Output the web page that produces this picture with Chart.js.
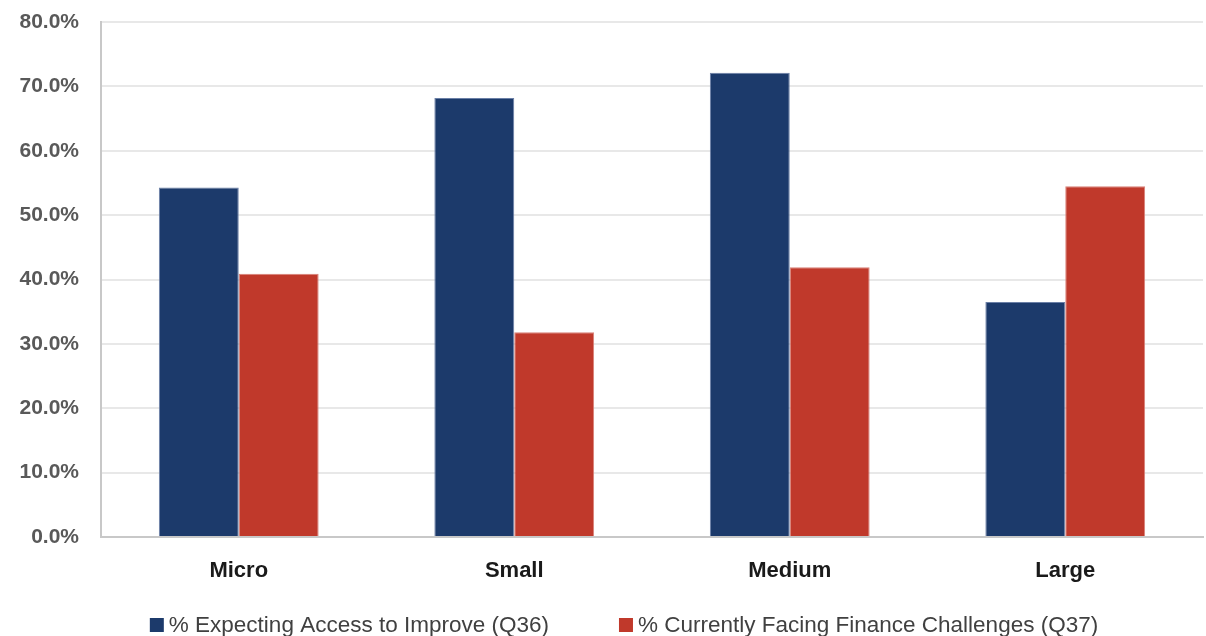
<!DOCTYPE html>
<html>
<head>
<meta charset="utf-8">
<script src="https://cdn.jsdelivr.net/npm/chart.js@4"></script>
<style>
  html, body { margin: 0; padding: 0; background: #ffffff; }
  #wrap { width: 1206px; height: 636px; }
</style>
</head>
<body>
<div id="wrap"><canvas id="c" width="1206" height="636"></canvas></div>
<script>
// Business size groups
const categories = ['Micro', 'Small', 'Medium', 'Large'];
// Share expecting access to finance to improve (Q36), percent
const expectingImprove = [54.3, 68.2, 72.1, 36.5];
// Share currently facing finance challenges (Q37), percent
const facingChallenges = [40.9, 31.8, 41.9, 54.5];
const seriesNames = ['% Expecting Access to Improve (Q36)', '% Currently Facing Finance Challenges (Q37)'];
const seriesColors = ['#1c3a6b', '#c0392b'];
const yTicks = [0, 10, 20, 30, 40, 50, 60, 70, 80];

const FONT = "'Liberation Sans', Arial, sans-serif";

// Legend row drawn under the axis: square swatch, small gap, label, wide gap to next item
const bottomLegend = {
  id: 'bottomLegend',
  afterDraw(chart) {
    const ctx = chart.ctx;
    const box = 14, textGap = 5, itemGap = 70;
    const baseline = 632;
    ctx.save();
    ctx.font = '22.5px ' + FONT;
    const items = chart.data.datasets.map(ds => ({
      text: ds.label,
      color: ds.backgroundColor,
      w: ctx.measureText(ds.label).width
    }));
    const total = items.reduce((s, it) => s + box + textGap + it.w, 0) + itemGap * (items.length - 1);
    let x = chart.width / 2 + 21 - total / 2;
    items.forEach(it => {
      ctx.fillStyle = it.color;
      ctx.fillRect(x, baseline - box, box, box);
      x += box + textGap;
      ctx.fillStyle = '#404040';
      ctx.textAlign = 'left';
      ctx.textBaseline = 'alphabetic';
      ctx.fillText(it.text, x, baseline);
      x += it.w + itemGap;
    });
    ctx.restore();
  }
};

new Chart(document.getElementById('c'), {
  type: 'bar',
  data: {
    labels: categories,
    datasets: [
      {
        label: seriesNames[0],
        data: expectingImprove,
        backgroundColor: seriesColors[0],
        borderColor: '#6a7fa6',
        borderWidth: 1,
        categoryPercentage: 0.58,
        barPercentage: 1.0
      },
      {
        label: seriesNames[1],
        data: facingChallenges,
        backgroundColor: seriesColors[1],
        borderColor: '#d98078',
        borderWidth: 1,
        categoryPercentage: 0.58,
        barPercentage: 1.0
      }
    ]
  },
  plugins: [bottomLegend],
  options: {
    responsive: false,
    animation: false,
    layout: { autoPadding: false, padding: { top: 22, right: 3, left: 0, bottom: 36 } },
    plugins: {
      tooltip: { enabled: false },
      legend: { display: false }
    },
    scales: {
      x: {
        grid: { display: false, drawTicks: false },
        border: { display: true, color: '#c8c8c8', width: 2 },
        ticks: {
          color: '#1a1a1a',
          padding: 21,
          font: { family: FONT, size: 22, weight: 'bold' }
        },
        afterFit: (s) => { s.height = 63; }
      },
      y: {
        min: 0,
        max: 80,
        afterBuildTicks: (s) => { s.ticks = yTicks.map(v => ({ value: v })); },
        grid: { color: '#e8e8e8', lineWidth: 2, drawTicks: false },
        border: { display: true, color: '#c8c8c8', width: 2 },
        ticks: {
          color: '#595959',
          padding: 22,
          font: { family: FONT, size: 21, weight: 'bold' },
          callback: (v) => Number(v).toFixed(1) + '%'
        },
        afterFit: (s) => { s.width = 101; s.paddingTop = 0; s.paddingBottom = 0; }
      }
    }
  }
});
</script>
</body>
</html>
